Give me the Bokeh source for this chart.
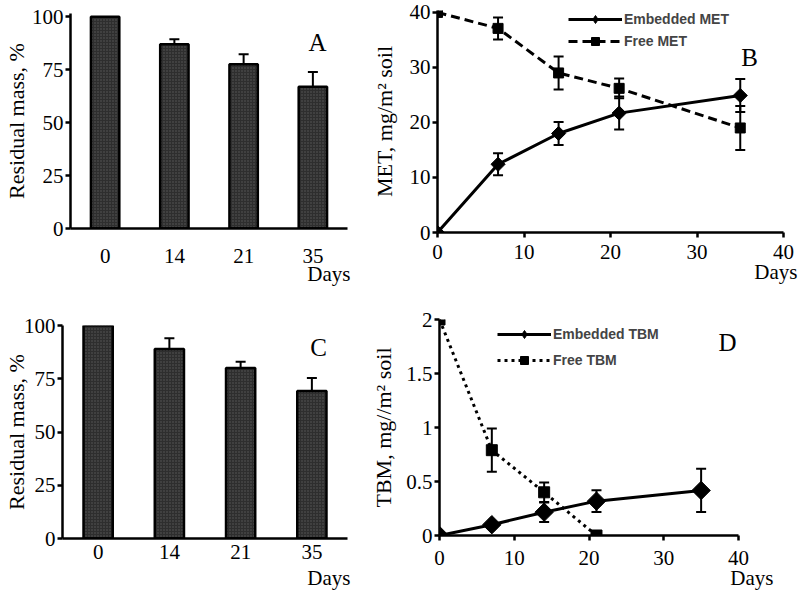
import numpy as np
from bokeh.plotting import figure
from bokeh.models import (Range1d, FactorRange, Whisker, ColumnDataSource, Label, Title,
                          Legend, LegendItem, TeeHead, FixedTicker, NumeralTickFormatter)
from bokeh.layouts import column, row
from bokeh.embed import file_html
from bokeh.resources import INLINE

# ---------------- data ----------------
days_cat = ["0", "14", "21", "35"]
mass_A = [100, 87, 77.5, 66.9]
mass_A_err = [0, 2.3, 4.8, 7.0]
mass_C = [100, 89, 80, 69.3]
mass_C_err = [0, 5.0, 3.0, 6.0]

days_met = [0, 7, 14, 21, 35]
met_embedded = [0, 12.4, 18.0, 21.7, 24.9]
met_embedded_err = [0, 2.0, 2.1, 3.0, 3.0]
met_free = [40, 37.1, 29.0, 26.2, 19.0]
met_free_err = [0, 2.0, 3.0, 1.8, 4.0]

days_tbm_emb = [0, 7, 14, 21, 35]
tbm_embedded = [0, 0.10, 0.216, 0.318, 0.417]
tbm_embedded_err = [0, 0, 0.09, 0.10, 0.20]
days_tbm_free = [0, 7, 14, 21]
tbm_free = [2.0, 0.79, 0.40, 0.0]
tbm_free_err = [0, 0.2, 0.09, 0]

SERIF = "Liberation Serif"
SANS = "Liberation Sans"


def base_fig(width, height, x_range, y_range, borders):
    l, r, t, b = borders
    p = figure(width=width, height=height, x_range=x_range, y_range=y_range,
               output_backend="svg", toolbar_location=None,
               min_border_left=l, min_border_right=r, min_border_top=t, min_border_bottom=b)
    p.frame_align = False
    p.outline_line_color = None
    p.grid.visible = False
    p.background_fill_color = "white"
    p.border_fill_color = "white"
    for ax in (p.xaxis[0], p.yaxis[0]):
        ax.axis_line_width = 2.5
        ax.axis_line_color = "black"
        ax.major_tick_line_width = 2.5
        ax.major_tick_line_color = "black"
        ax.major_tick_in = 0
        ax.major_tick_out = 5
        ax.minor_tick_line_color = None
        ax.major_label_text_font = SERIF
        ax.major_label_text_font_size = "21px"
        ax.major_label_text_color = "black"
        ax.axis_label_text_font = SERIF
        ax.axis_label_text_font_style = "normal"
        ax.axis_label_text_font_size = "22px"
        ax.axis_label_text_color = "black"
    p.yaxis[0].major_label_standoff = 2
    return p


def add_letter(p, text, x, y):
    p.add_layout(Label(x=x, y=y, x_units="screen", y_units="screen", text=text,
                       text_font=SERIF, text_font_size="25px", text_align="center",
                       text_baseline="middle", text_color="black"))


def add_days(p, offset, standoff):
    p.add_layout(Title(text="Days", align="right", offset=offset, standoff=standoff,
                       text_font=SERIF, text_font_size="21px", text_font_style="normal",
                       text_color="black"), "below")


def whiskers(p, xs, ys, errs, size=10):
    xx = [x for x, e in zip(xs, errs) if e > 0]
    up = [y + e for y, e in zip(ys, errs) if e > 0]
    lo = [y - e for y, e in zip(ys, errs) if e > 0]
    src = ColumnDataSource(dict(base=xx, upper=up, lower=lo))
    w = Whisker(source=src, base="base", upper="upper", lower="lower",
                line_width=2, line_color="black",
                upper_head=TeeHead(size=size, line_width=2, line_color="black"),
                lower_head=TeeHead(size=size, line_width=2, line_color="black"))
    p.add_layout(w)


def bar_panel(values, errs, letter, borders, y_end, letter_xy, x_standoff, ylab_standoff,
              days_offset, days_standoff):
    p = base_fig(368, 297, FactorRange(factors=days_cat), Range1d(0, y_end), borders)
    src = ColumnDataSource(dict(x=days_cat, top=values))
    p.vbar(x="x", top="top", width=0.41, source=src, fill_color="#2e2e2e",
           hatch_pattern="dot", hatch_color="#5a5a5a", hatch_scale=3,
           line_color="black", line_width=2.5)
    whiskers(p, days_cat, values, errs, size=10)
    p.yaxis[0].ticker = FixedTicker(ticks=[0, 25, 50, 75, 100])
    p.yaxis[0].axis_label = "Residual mass, %"
    p.yaxis[0].axis_label_standoff = ylab_standoff
    p.xaxis[0].major_tick_out = 0
    p.xaxis[0].major_label_standoff = x_standoff
    add_letter(p, letter, letter_xy[0], letter_xy[1])
    add_days(p, days_offset, days_standoff)
    return p


def legend(p, items, loc, spacing):
    leg = Legend(items=[LegendItem(label=lab, renderers=rs) for lab, rs in items],
                 location=loc, padding=0, margin=0, spacing=spacing,
                 glyph_width=54, glyph_height=20, label_height=20, label_standoff=2,
                 label_text_font=SANS, label_text_font_style="bold",
                 label_text_font_size="14px", border_line_color=None,
                 background_fill_alpha=0)
    p.add_layout(leg)


# ---------------- panel A ----------------
pA = bar_panel(mass_A, mass_A_err, "A", (63, 21, 13, 69), 101.5, (247, 186), 20, 0, -3, -11)
# ---------------- panel C ----------------
pC = bar_panel(mass_C, mass_C_err, "C", (54, 21, 28, 56), 100, (256, 191), 6, -8, -3, 4)

# ---------------- panel B ----------------
pB = base_fig(432, 297, Range1d(0, 40), Range1d(0, 40.35), (65, 17, 10, 65))
pB.xaxis[0].ticker = FixedTicker(ticks=[0, 10, 20, 30, 40])
pB.yaxis[0].ticker = FixedTicker(ticks=[0, 10, 20, 30, 40])
pB.xaxis[0].major_label_standoff = 7
pB.yaxis[0].axis_label = "MET, mg/m\u00b2 soil"
pB.yaxis[0].axis_label_standoff = 10
whiskers(pB, days_met, met_embedded, met_embedded_err)
whiskers(pB, days_met, met_free, met_free_err)
lE = pB.line(days_met, met_embedded, line_width=3, line_color="black")
pB.scatter(days_met, met_embedded, marker="square", angle=np.pi / 4, size=10,
           fill_color="black", line_color="black")
kE = pB.scatter(days_met, met_embedded, marker="diamond", size=0,
                fill_color="black", line_color="black")
lF = pB.line(days_met, met_free, line_width=3, line_color="black", line_dash="9 5")
mF = pB.scatter(days_met, met_free, marker="square", size=10, fill_color="black",
                line_color="black")
legend(pB, [("Embedded MET", [lE, kE]), ("Free MET", [lF, mF])], (131, 181), 2)
add_letter(pB, "B", 312, 175)
add_days(pB, -14, -8)

# ---------------- panel D ----------------
pD = base_fig(432, 297, Range1d(0, 40), Range1d(0, 2), (65, 62, 22, 59))
pD.xaxis[0].ticker = FixedTicker(ticks=[0, 10, 20, 30, 40])
pD.yaxis[0].ticker = FixedTicker(ticks=[0, 0.5, 1, 1.5, 2])
pD.yaxis[0].formatter = NumeralTickFormatter(format="0.[0]")
pD.xaxis[0].major_label_standoff = 10
pD.yaxis[0].axis_label = "TBM, mg//m\u00b2 soil"
pD.yaxis[0].axis_label_standoff = 7
whiskers(pD, days_tbm_emb, tbm_embedded, tbm_embedded_err)
whiskers(pD, days_tbm_free, tbm_free, tbm_free_err)
lE2 = pD.line(days_tbm_emb, tbm_embedded, line_width=3, line_color="black")
pD.scatter(days_tbm_emb, tbm_embedded, marker="square", angle=np.pi / 4, size=13,
           fill_color="black", line_color="black")
kE2 = pD.scatter(days_tbm_emb, tbm_embedded, marker="diamond", size=0,
                 fill_color="black", line_color="black")
lF2 = pD.line(days_tbm_free, tbm_free, line_width=3, line_color="black", line_dash="3 4")
mF2 = pD.scatter(days_tbm_free, tbm_free, marker="square", size=11, fill_color="black",
                 line_color="black")
legend(pD, [("Embedded TBM", [lE2, kE2]), ("Free TBM", [lF2, mF2])], (58, 165), 6)
add_letter(pD, "D", 288, 193)
add_days(pD, -35, -8)

layout = column(row(pA, pB), row(pC, pD))
open("out.html", "w").write(file_html(layout, INLINE))
